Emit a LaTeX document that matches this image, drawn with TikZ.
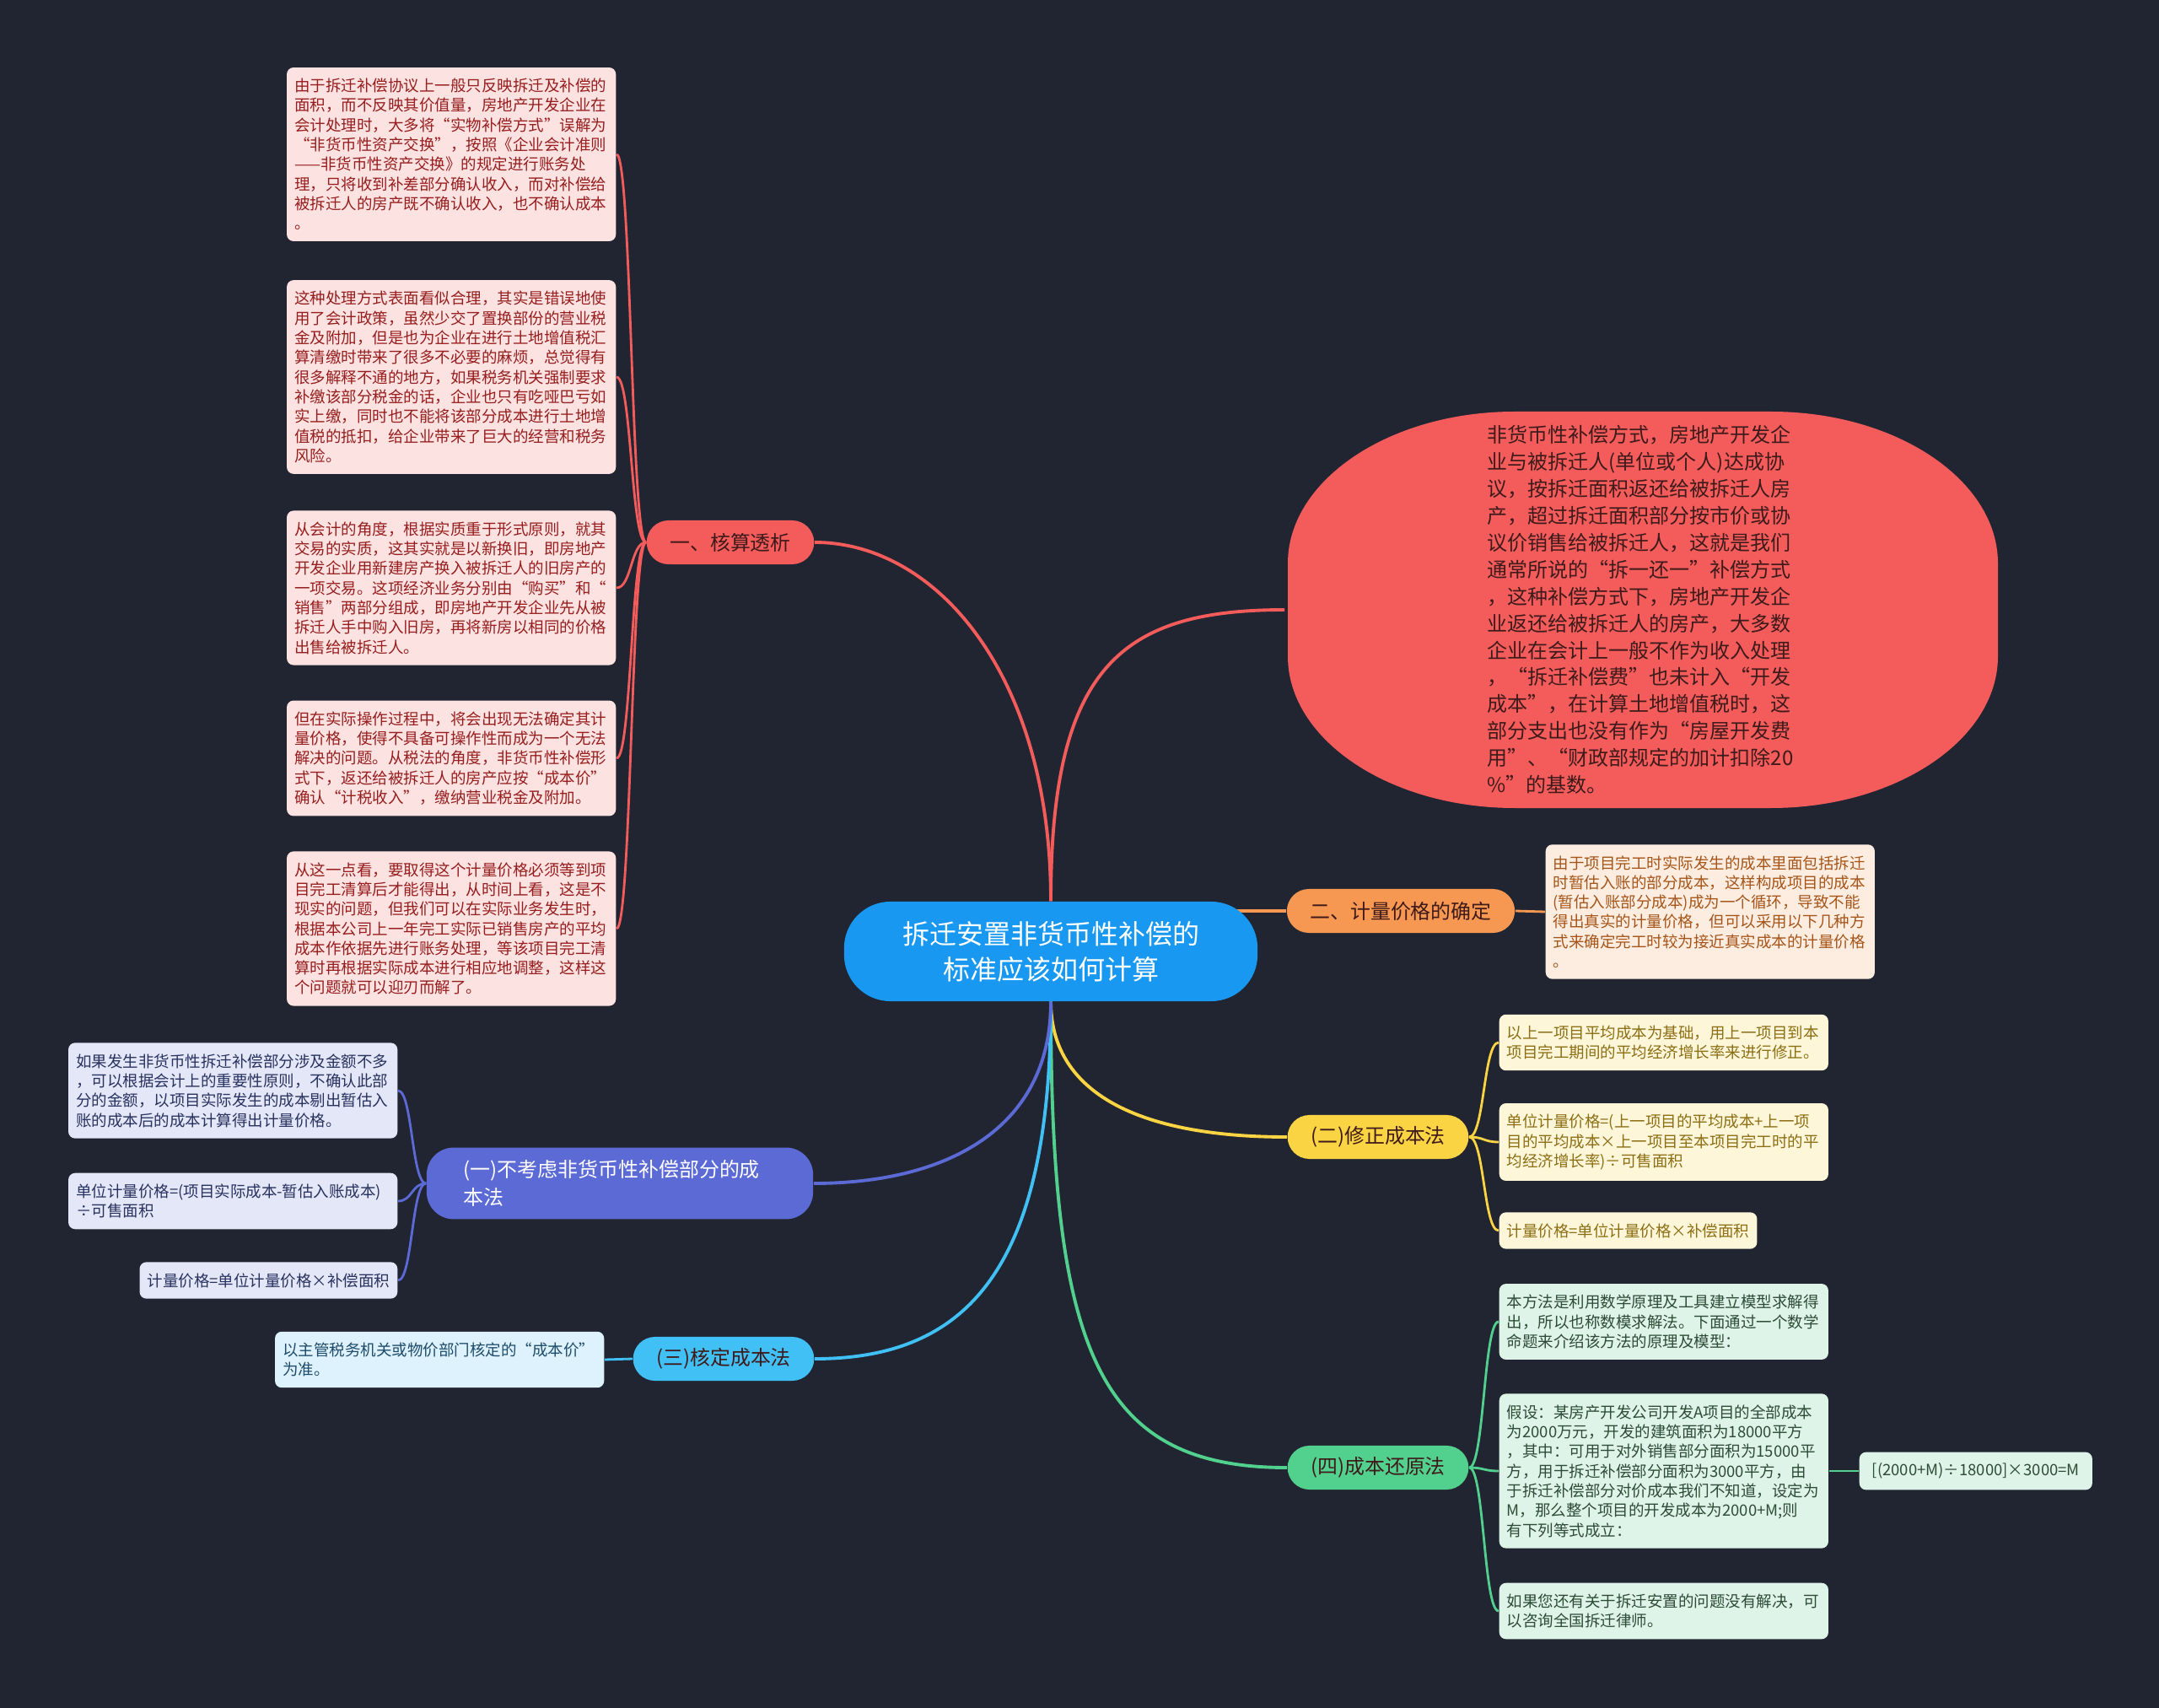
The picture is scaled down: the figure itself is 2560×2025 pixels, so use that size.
\documentclass[tikz,border=0pt]{standalone}
\usepackage{fontspec}
\setmainfont{Noto Sans CJK SC}
\usepackage{tikz}
\usetikzlibrary{positioning, calc}
\usepackage{xcolor}
\definecolor{PageColor}{RGB}{33, 37, 49}
\definecolor{RootBlue}{RGB}{24, 152, 240}
\definecolor{AuditRed}{RGB}{244, 92, 92}
\definecolor{PriceOrange}{RGB}{246, 152, 82}
\definecolor{FixYellow}{RGB}{250, 212, 66}
\definecolor{RestoreGreen}{RGB}{82, 208, 142}
\definecolor{CheckBlue}{RGB}{64, 192, 245}
\definecolor{SkipIndigo}{RGB}{92, 106, 214}
\definecolor{DefInk}{RGB}{62, 26, 26}
\definecolor{AuditLeaf}{RGB}{253, 226, 226}
\definecolor{AuditInk}{RGB}{150, 30, 30}
\definecolor{PriceLeaf}{RGB}{253, 237, 225}
\definecolor{PriceInk}{RGB}{165, 85, 25}
\definecolor{FixLeaf}{RGB}{253, 246, 216}
\definecolor{FixInk}{RGB}{140, 110, 20}
\definecolor{RestoreLeaf}{RGB}{222, 244, 232}
\definecolor{RestoreInk}{RGB}{45, 75, 55}
\definecolor{SkipLeaf}{RGB}{228, 231, 247}
\definecolor{SkipInk}{RGB}{40, 50, 95}
\definecolor{CheckLeaf}{RGB}{221, 242, 252}
\definecolor{CheckInk}{RGB}{30, 75, 105}
\newcommand{\rootfont}{\fontsize{9.1}{11.95}\selectfont}
\newcommand{\topicfont}{\fontsize{6.8}{9.3}\selectfont}
\newcommand{\deffont}{\fontsize{6.83}{9.07}\selectfont}
\newcommand{\leaffont}{\fontsize{5.26}{6.63}\selectfont}
\pgfdeclarelayer{canvas}
\pgfdeclarelayer{links}
\pgfsetlayers{canvas,links,main}

\begin{document}
\begin{tikzpicture}[x=0.01cm, y=-0.01cm,
  root/.style={fill=RootBlue, text=white, rounded corners=0.55cm, minimum width=4.9cm, minimum height=1.18cm, align=center, font=\rootfont},
  topic/.style={rounded corners=0.26cm, minimum height=0.52cm, inner xsep=0.275cm, inner ysep=0.1cm, font=\topicfont, text=DefInk},
  card/.style={rounded corners=0.08cm, inner xsep=0.09cm, inner ysep=0.13cm, align=left, font=\leaffont},
  leaf/.style={card, text width=3.72cm},
  mainlink/.style={line width=1.1pt},
  leaflink/.style={line width=0.8pt}]

\useasboundingbox (0,0) rectangle (2560,2025);
\begin{pgfonlayer}{canvas}
\fill[PageColor] (0,0) rectangle (2560,2025);
\end{pgfonlayer}

% centre
\node[root] (ctr) at (1246,1128) {拆迁安置非货币性补偿的\\标准应该如何计算};

% main topics
\node[font=\deffont, text=DefInk, align=left, inner sep=0pt, minimum width=8.42cm, minimum height=4.7cm] (def) at (1945,723) {非货币性补偿方式，房地产开发企\\业与被拆迁人(单位或个人)达成协\\议，按拆迁面积返还给被拆迁人房\\产，超过拆迁面积部分按市价或协\\议价销售给被拆迁人，这就是我们\\通常所说的“拆一还一”补偿方式\\，这种补偿方式下，房地产开发企\\业返还给被拆迁人的房产，大多数\\企业在会计上一般不作为收入处理\\，“拆迁补偿费”也未计入“开发\\成本”，在计算土地增值税时，这\\部分支出也没有作为“房屋开发费\\用”、“财政部规定的加计扣除20\\\%”的基数。};
\node[topic, fill=AuditRed] (b1) at (866,643) {一、核算透析};
\node[topic, fill=PriceOrange] (b2) at (1661,1080) {二、计量价格的确定};
\node[topic, fill=FixYellow] (b3) at (1634,1348) {(二)修正成本法};
\node[topic, fill=RestoreGreen] (b4) at (1634,1740) {(四)成本还原法};
\node[topic, fill=CheckBlue] (b5) at (858,1611) {(三)核定成本法};
\node[topic, fill=SkipIndigo, text=white, text width=3.7cm, align=left, inner xsep=0.44cm, inner ysep=0.15cm, rounded corners=0.32cm] (b6) at (735,1403) {(一)不考虑非货币性补偿部分的成\\本法};

% leaves of b1
\node[leaf, fill=AuditLeaf, text=AuditInk, anchor=east] (l1) at (731,183) {由于拆迁补偿协议上一般只反映拆迁及补偿的\\面积，而不反映其价值量，房地产开发企业在\\会计处理时，大多将“实物补偿方式”误解为\\“非货币性资产交换”，按照《企业会计准则\\——非货币性资产交换》的规定进行账务处\\理，只将收到补差部分确认收入，而对补偿给\\被拆迁人的房产既不确认收入，也不确认成本\\。};
\node[leaf, fill=AuditLeaf, text=AuditInk, anchor=east] (l2) at (731,447) {这种处理方式表面看似合理，其实是错误地使\\用了会计政策，虽然少交了置换部份的营业税\\金及附加，但是也为企业在进行土地增值税汇\\算清缴时带来了很多不必要的麻烦，总觉得有\\很多解释不通的地方，如果税务机关强制要求\\补缴该部分税金的话，企业也只有吃哑巴亏如\\实上缴，同时也不能将该部分成本进行土地增\\值税的抵扣，给企业带来了巨大的经营和税务\\风险。};
\node[leaf, fill=AuditLeaf, text=AuditInk, anchor=east] (l3) at (731,697) {从会计的角度，根据实质重于形式原则，就其\\交易的实质，这其实就是以新换旧，即房地产\\开发企业用新建房产换入被拆迁人的旧房产的\\一项交易。这项经济业务分别由“购买”和“\\销售”两部分组成，即房地产开发企业先从被\\拆迁人手中购入旧房，再将新房以相同的价格\\出售给被拆迁人。};
\node[leaf, fill=AuditLeaf, text=AuditInk, anchor=east] (l4) at (731,899) {但在实际操作过程中，将会出现无法确定其计\\量价格，使得不具备可操作性而成为一个无法\\解决的问题。从税法的角度，非货币性补偿形\\式下，返还给被拆迁人的房产应按“成本价”\\确认“计税收入”，缴纳营业税金及附加。};
\node[leaf, fill=AuditLeaf, text=AuditInk, anchor=east] (l5) at (731,1101) {从这一点看，要取得这个计量价格必须等到项\\目完工清算后才能得出，从时间上看，这是不\\现实的问题，但我们可以在实际业务发生时，\\根据本公司上一年完工实际已销售房产的平均\\成本作依据先进行账务处理，等该项目完工清\\算时再根据实际成本进行相应地调整，这样这\\个问题就可以迎刃而解了。};

% leaf of b2
\node[leaf, fill=PriceLeaf, text=PriceInk, anchor=west] (o1) at (1832,1081) {由于项目完工时实际发生的成本里面包括拆迁\\时暂估入账的部分成本，这样构成项目的成本\\(暂估入账部分成本)成为一个循环，导致不能\\得出真实的计量价格，但可以采用以下几种方\\式来确定完工时较为接近真实成本的计量价格\\。};

% leaves of b3
\node[leaf, fill=FixLeaf, text=FixInk, anchor=west] (y1) at (1777,1236) {以上一项目平均成本为基础，用上一项目到本\\项目完工期间的平均经济增长率来进行修正。};
\node[leaf, fill=FixLeaf, text=FixInk, anchor=west] (y2) at (1777,1354) {单位计量价格=(上一项目的平均成本+上一项\\目的平均成本×上一项目至本项目完工时的平\\均经济增长率)÷可售面积};
\node[card, fill=FixLeaf, text=FixInk, anchor=west] (y3) at (1777,1459) {计量价格=单位计量价格×补偿面积};

% leaves of b4
\node[leaf, fill=RestoreLeaf, text=RestoreInk, anchor=west] (g1) at (1777,1567) {本方法是利用数学原理及工具建立模型求解得\\出，所以也称数模求解法。下面通过一个数学\\命题来介绍该方法的原理及模型：};
\node[leaf, fill=RestoreLeaf, text=RestoreInk, anchor=west] (g2) at (1777,1744) {假设：某房产开发公司开发A项目的全部成本\\为2000万元，开发的建筑面积为18000平方\\，其中：可用于对外销售部分面积为15000平\\方，用于拆迁补偿部分面积为3000平方，由\\于拆迁补偿部分对价成本我们不知道，设定为\\M，那么整个项目的开发成本为2000+M;则\\有下列等式成立：};
\node[leaf, fill=RestoreLeaf, text=RestoreInk, anchor=west] (g3) at (1777,1910) {如果您还有关于拆迁安置的问题没有解决，可\\以咨询全国拆迁律师。};
\node[card, fill=RestoreLeaf, text=RestoreInk, anchor=west, minimum width=2.76cm] (g4) at (2204,1744) {[(2000+M)÷18000]×3000=M};

% leaf of b5
\node[leaf, fill=CheckLeaf, text=CheckInk, anchor=east] (c1) at (717,1612) {以主管税务机关或物价部门核定的“成本价”\\为准。};

% leaves of b6
\node[leaf, fill=SkipLeaf, text=SkipInk, anchor=east] (p1) at (472,1293) {如果发生非货币性拆迁补偿部分涉及金额不多\\，可以根据会计上的重要性原则，不确认此部\\分的金额，以项目实际发生的成本剔出暂估入\\账的成本后的成本计算得出计量价格。};
\node[leaf, fill=SkipLeaf, text=SkipInk, anchor=east] (p2) at (472,1424) {单位计量价格=(项目实际成本-暂估入账成本)\\÷可售面积};
\node[card, fill=SkipLeaf, text=SkipInk, anchor=east] (p3) at (472,1518) {计量价格=单位计量价格×补偿面积};

\begin{pgfonlayer}{links}
% rounded blob behind def
\fill[AuditRed] (1796,488) -- (2100,488) .. controls (2248,488) and (2369,569) .. (2369,668)
  -- (2369,778) .. controls (2369,877) and (2248,958) .. (2100,958)
  -- (1796,958) .. controls (1648,958) and (1527,877) .. (1527,778)
  -- (1527,668) .. controls (1527,569) and (1648,488) .. (1796,488) -- cycle;

% centre to topics
\draw[mainlink, AuditRed] (ctr.north) .. controls (1246,790) and (1330,723) .. (def.west);
\draw[mainlink, AuditRed] (ctr.north) .. controls (1246,800) and (1110,643) .. (b1.east);
\draw[mainlink, PriceOrange] (ctr.center |- b2.west) -- (b2.west);
\draw[mainlink, FixYellow] (ctr.south) .. controls (1246,1290) and (1340,1348) .. (b3.west);
\draw[mainlink, RestoreGreen] (ctr.south) .. controls (1246,1600) and (1300,1740) .. (b4.west);
\draw[mainlink, CheckBlue] (ctr.south) .. controls (1246,1500) and (1150,1611) .. (b5.east);
\draw[mainlink, SkipIndigo] (ctr.south) .. controls (1246,1340) and (1120,1403) .. (b6.east);

% topics to leaves
\foreach \n in {l1,l2,l3,l4,l5}
  \draw[leaflink, AuditRed] (b1.west) .. controls ($(b1.west)+(-18,0)$) and ($(\n.east)+(18,0)$) .. (\n.east);
\draw[leaflink, PriceOrange] (b2.east) .. controls ($(b2.east)+(18,0)$) and ($(o1.west)+(-18,0)$) .. (o1.west);
\foreach \n in {y1,y2,y3}
  \draw[leaflink, FixYellow] (b3.east) .. controls ($(b3.east)+(18,0)$) and ($(\n.west)+(-18,0)$) .. (\n.west);
\foreach \n in {g1,g2,g3}
  \draw[leaflink, RestoreGreen] (b4.east) .. controls ($(b4.east)+(18,0)$) and ($(\n.west)+(-18,0)$) .. (\n.west);
\draw[leaflink, RestoreGreen] (g2.east) -- (g4.west);
\draw[leaflink, CheckBlue] (b5.west) .. controls ($(b5.west)+(-17,0)$) and ($(c1.east)+(17,0)$) .. (c1.east);
\foreach \n in {p1,p2,p3}
  \draw[leaflink, SkipIndigo] (b6.west) .. controls ($(b6.west)+(-17,0)$) and ($(\n.east)+(17,0)$) .. (\n.east);
\end{pgfonlayer}

\end{tikzpicture}
\end{document}
